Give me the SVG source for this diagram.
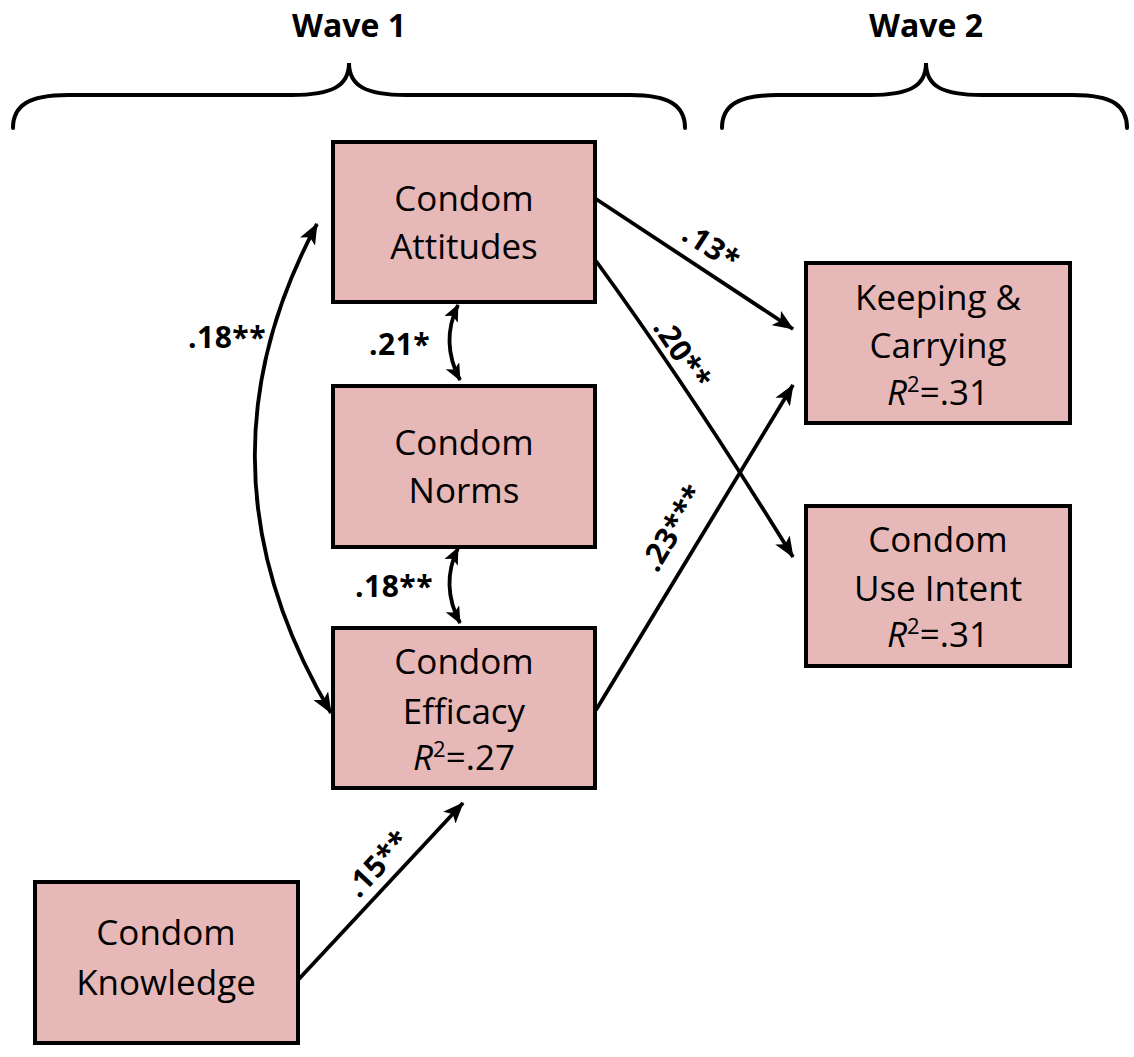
<svg xmlns="http://www.w3.org/2000/svg" width="1134" height="1057" viewBox="0 0 1134 1057">
  <style>
    .box { fill: #E6B8B7; stroke: #000; stroke-width: 4; }
    .lbl { font-family: "Open Sans", "Liberation Sans", sans-serif; font-size: 35px; fill: #000; text-anchor: middle; }
    .coef { font-family: "Open Sans", "Liberation Sans", sans-serif; font-size: 30px; font-weight: bold; fill: #000; letter-spacing: 0.5px; }
    .wave { font-family: "Open Sans", "Liberation Sans", sans-serif; font-size: 32px; font-weight: bold; fill: #000; text-anchor: middle; }
    .brace { fill: none; stroke: #000; stroke-width: 4; stroke-linecap: round; }
    .path { fill: none; stroke: #000; stroke-width: 3.8; }
    .sup { font-size: 22px; }
    .it { font-style: italic; }
  </style>
  <defs>
    <marker id="head" viewBox="0 0 21 17" refX="20" refY="8.5" markerWidth="21" markerHeight="17" markerUnits="userSpaceOnUse" orient="auto-start-reverse">
      <path d="M0,0 L21,8.5 L0,17 L5,8.5 Z" fill="#000"/>
    </marker>
    <marker id="headSm" viewBox="0 0 17 15" refX="16" refY="7.5" markerWidth="17" markerHeight="15" markerUnits="userSpaceOnUse" orient="auto-start-reverse">
      <path d="M0,0 L17,7.5 L0,15 L4,7.5 Z" fill="#000"/>
    </marker>
  </defs>

  <!-- wave headings and braces -->
  <g id="wave1">
    <text class="wave" x="349" y="37">Wave 1</text>
    <path class="brace" d="M13,128 C13,106 28,95 68,95 L292,95 C332,95 349,86 349,63 C349,86 366,95 406,95 L630,95 C670,95 685,106 685,128"/>
  </g>
  <g id="wave2">
    <text class="wave" x="926" y="37">Wave 2</text>
    <path class="brace" d="M722,128 C722,106 737,95 777,95 L870,95 C910,95 926,86 926,63 C926,86 942,95 982,95 L1073,95 C1113,95 1127,106 1127,128"/>
  </g>

  <!-- connectors -->
  <g id="connectors">
    <path class="path" d="M596,199 L793,329" marker-end="url(#head)"/>
    <path class="path" d="M596,261 Q690,390 793,557" marker-end="url(#head)"/>
    <path class="path" d="M596,710 L793,385" marker-end="url(#head)"/>
    <path class="path" d="M298,980 L463,803" marker-end="url(#head)"/>
    <path class="path" d="M317,224 Q186,468 331,713" marker-start="url(#head)" marker-end="url(#head)"/>
    <path class="path" d="M458,305 Q440,342 460,380" marker-start="url(#headSm)" marker-end="url(#headSm)"/>
    <path class="path" d="M458,548 Q440,585 460,623" marker-start="url(#headSm)" marker-end="url(#headSm)"/>

    <text class="coef" x="188" y="348">.18**</text>
    <text class="coef" x="369" y="355">.21*</text>
    <text class="coef" x="355" y="597">.18**</text>
    <text class="coef" text-anchor="middle" transform="translate(711,247) rotate(33)" y="10">.13*</text>
    <text class="coef" text-anchor="middle" transform="translate(682,354) rotate(56)" y="10">.20**</text>
    <text class="coef" text-anchor="middle" transform="translate(673,528) rotate(-59)" y="10">.23***</text>
    <text class="coef" text-anchor="middle" transform="translate(378,864) rotate(-47)" y="10">.15**</text>
  </g>

  <!-- nodes -->
  <g id="attitudes">
    <rect class="box" x="333" y="142" width="262" height="160"/>
    <text class="lbl" x="464" y="211">Condom</text>
    <text class="lbl" x="464" y="259">Attitudes</text>
  </g>
  <g id="norms">
    <rect class="box" x="333" y="386" width="262" height="161"/>
    <text class="lbl" x="464" y="455">Condom</text>
    <text class="lbl" x="464" y="503">Norms</text>
  </g>
  <g id="efficacy">
    <rect class="box" x="333" y="628" width="262" height="160"/>
    <text class="lbl" x="464" y="674">Condom</text>
    <text class="lbl" x="464" y="724">Efficacy</text>
    <text class="lbl" x="464" y="770"><tspan class="it">R</tspan><tspan class="sup" dy="-13">2</tspan><tspan dy="13">=.27</tspan></text>
  </g>
  <g id="knowledge">
    <rect class="box" x="35" y="882" width="263" height="161"/>
    <text class="lbl" x="166" y="945">Condom</text>
    <text class="lbl" x="166" y="995">Knowledge</text>
  </g>
  <g id="keeping">
    <rect class="box" x="806" y="263" width="264" height="160"/>
    <text class="lbl" x="938" y="310">Keeping &amp;</text>
    <text class="lbl" x="938" y="358">Carrying</text>
    <text class="lbl" x="938" y="405"><tspan class="it">R</tspan><tspan class="sup" dy="-13">2</tspan><tspan dy="13">=.31</tspan></text>
  </g>
  <g id="intent">
    <rect class="box" x="806" y="506" width="264" height="160"/>
    <text class="lbl" x="938" y="552">Condom</text>
    <text class="lbl" x="938" y="601">Use Intent</text>
    <text class="lbl" x="938" y="647"><tspan class="it">R</tspan><tspan class="sup" dy="-13">2</tspan><tspan dy="13">=.31</tspan></text>
  </g>
</svg>
